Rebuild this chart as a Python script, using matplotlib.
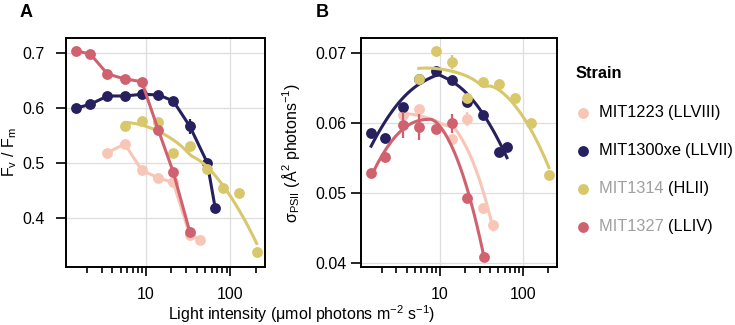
import numpy as np
import matplotlib
matplotlib.use('Agg')
from matplotlib import pyplot as plt
from matplotlib.lines import Line2D
from matplotlib.ticker import LogLocator, NullFormatter, FixedLocator

plt.rcParams['font.family'] = ['Liberation Sans', 'DejaVu Sans']
plt.rcParams['mathtext.default'] = 'regular'
plt.rcParams['font.size'] = 11.5

strains = ['MIT1223', 'MIT1300xe', 'MIT1314', 'MIT1327']
clades = ['LLVIII', 'LLVII', 'HLII', 'LLIV']
colors = ['#f8c6b6', '#26205f', '#d9c76c', '#d0626f']
name_colors = ['black', 'black', '#a0a0a0', '#a0a0a0']

# panel A: Fv/Fm
a_x = {
    'MIT1223': [3.5, 5.6, 8.9, 14, 21, 33, 44],
    'MIT1300xe': [1.5, 2.2, 3.5, 5.6, 8.9, 14, 21, 33, 53, 66],
    'MIT1314': [5.6, 8.9, 14, 21, 33, 53, 81, 126, 204],
    'MIT1327': [1.5, 2.2, 3.5, 5.6, 8.9, 14, 21, 33],
}
a_y = {
    'MIT1223': [0.519, 0.535, 0.487, 0.473, 0.465, 0.369, 0.361],
    'MIT1300xe': [0.600, 0.607, 0.622, 0.622, 0.625, 0.624, 0.613, 0.567, 0.501, 0.418],
    'MIT1314': [0.567, 0.577, 0.574, 0.519, 0.531, 0.489, 0.454, 0.446, 0.338],
    'MIT1327': [0.704, 0.698, 0.662, 0.653, 0.648, 0.560, 0.484, 0.375],
}
a_err = {
    'MIT1300xe': [0, 0, 0, 0, 0, 0, 0, 0.014, 0, 0],
}

# panel B: sigma PSII
b_x = {
    'MIT1223': [3.6, 5.6, 8.9, 14, 21, 33, 44],
    'MIT1300xe': [1.5, 2.2, 3.6, 5.6, 8.9, 14, 21, 33, 52, 64],
    'MIT1314': [5.6, 8.9, 14, 21, 33, 52, 81, 126, 204],
    'MIT1327': [1.5, 2.2, 3.6, 5.6, 8.9, 14, 21, 34],
}
b_y = {
    'MIT1223': [0.0612, 0.0620, 0.0593, 0.0578, 0.0606, 0.0479, 0.0455],
    'MIT1300xe': [0.0586, 0.0579, 0.0624, 0.0663, 0.0675, 0.0662, 0.0630, 0.0612, 0.0559, 0.0566],
    'MIT1314': [0.0664, 0.0703, 0.0688, 0.0636, 0.0659, 0.0656, 0.0637, 0.0600, 0.0526],
    'MIT1327': [0.0529, 0.0552, 0.0598, 0.0595, 0.0592, 0.0600, 0.0494, 0.0409],
}
b_err = {
    'MIT1223': [0, 0, 0, 0, 0.001, 0, 0],
    'MIT1314': [0, 0, 0.001, 0, 0, 0, 0, 0, 0],
    'MIT1327': [0, 0, 0.0019, 0.0019, 0, 0.0014, 0, 0],
}

fig = plt.figure(figsize=(7.35, 3.25), dpi=100)
axA = fig.add_axes([0.0898, 0.178, 0.2707, 0.705])
axB = fig.add_axes([0.491, 0.178, 0.267, 0.705])

ms = 7.8
lw = 2.2


def smooth(x, y, span=1.0):
    # local quadratic loess on log10(x)
    lx = np.log10(x)
    n = len(lx)
    q = int(np.floor(n * span))
    xs = np.linspace(lx.min(), lx.max(), 120)
    ys = []
    for x0 in xs:
        d = np.abs(lx - x0)
        h = np.sort(d)[q - 1] * 1.05
        w = np.clip(1 - (d / h) ** 3, 0, None) ** 3
        W = np.sqrt(w)
        A = np.vstack([np.ones(n), lx - x0, (lx - x0) ** 2]).T
        c = np.linalg.lstsq(A * W[:, None], y * W, rcond=None)[0]
        ys.append(c[0])
    return 10 ** xs, np.array(ys)


def style(ax, ypad):
    ax.set_xscale('log')
    ax.set_xlim(1.13, 256)
    ax.xaxis.set_major_locator(FixedLocator([10, 100]))
    ax.xaxis.set_minor_locator(LogLocator(base=10, subs=np.arange(2, 10)))
    ax.xaxis.set_minor_formatter(NullFormatter())
    ax.set_xticklabels(['10', '100'])
    ax.grid(True, which='major', color='#dedede', lw=0.9)
    ax.set_axisbelow(True)
    for s in ax.spines.values():
        s.set_linewidth(1.4)
    ax.tick_params(which='major', length=7.5, width=1.2, colors='black', labelsize=11.5)
    ax.tick_params(axis='y', pad=ypad)
    ax.tick_params(which='minor', length=4, width=1.2)
    ax.tick_params(axis='x', which='major', length=6.2, pad=8)


for i, s in enumerate(strains):
    x = np.array(a_x[s]); y = np.array(a_y[s])
    if s == 'MIT1314':
        sx, sy = smooth(x, y)
        axA.plot(sx, sy, color=colors[i], lw=lw, zorder=2 + i)
    else:
        axA.plot(x, y, color=colors[i], lw=lw, zorder=2 + i)
    if s in a_err:
        axA.errorbar(x, y, yerr=a_err[s], fmt='none', ecolor=colors[i], elinewidth=1.6, zorder=2 + i)
    axA.plot(x, y, 'o', color=colors[i], ms=ms, mew=0, zorder=2 + i)

    x = np.array(b_x[s]); y = np.array(b_y[s])
    sx, sy = smooth(x, y)
    axB.plot(sx, sy, color=colors[i], lw=lw, zorder=2 + i)
    if s in b_err:
        axB.errorbar(x, y, yerr=b_err[s], fmt='none', ecolor=colors[i], elinewidth=1.6, zorder=2 + i)
    axB.plot(x, y, 'o', color=colors[i], ms=ms, mew=0, zorder=2 + i)

style(axA, 8)
style(axB, 3)
axA.set_ylim(0.311, 0.7273)
axA.set_yticks([0.4, 0.5, 0.6, 0.7])
axA.set_yticklabels(['0.4', '0.5', '0.6', '0.7'])
axB.set_ylim(0.03947, 0.0722)
axB.set_yticks([0.04, 0.05, 0.06, 0.07])
axB.set_yticklabels(['0.04', '0.05', '0.06', '0.07'])

axA.set_ylabel('F$_v$ / F$_m$', fontsize=11.5)
axA.yaxis.set_label_coords(-0.235, 0.5)
axB.set_ylabel('σ$_{PSII}$ (Å$^2$ photons$^{-1}$)', fontsize=11.5)
axB.yaxis.set_label_coords(-0.30, 0.5)
fig.text(0.41, 0.033, 'Light intensity (μmol photons m$^{-2}$ s$^{-1}$)',
         ha='center', va='center', fontsize=11.5)

fig.text(0.027, 0.962, 'A', fontsize=13, fontweight='bold', va='center')
fig.text(0.430, 0.962, 'B', fontsize=13, fontweight='bold', va='center')

# legend
fig.text(576 / 735, 1 - 73 / 325, 'Strain', fontsize=11.8, fontweight='bold', va='center')
r = fig.canvas.get_renderer()
for i, s in enumerate(strains):
    yy = 1 - (112.5 + 38 * i) / 325
    fig.add_artist(Line2D([583 / 735], [yy], marker='o', color=colors[i], ms=ms, mew=0,
                          transform=fig.transFigure))
    t = fig.text(599 / 735, yy, s + ' ', color=name_colors[i], fontsize=11.8, va='center')
    bb = t.get_window_extent(renderer=r)
    fig.text(bb.x1 / fig.bbox.width, yy, '(' + clades[i] + ')', color='black',
             fontsize=11.8, va='center')

fig.savefig('out.png', dpi=100)
